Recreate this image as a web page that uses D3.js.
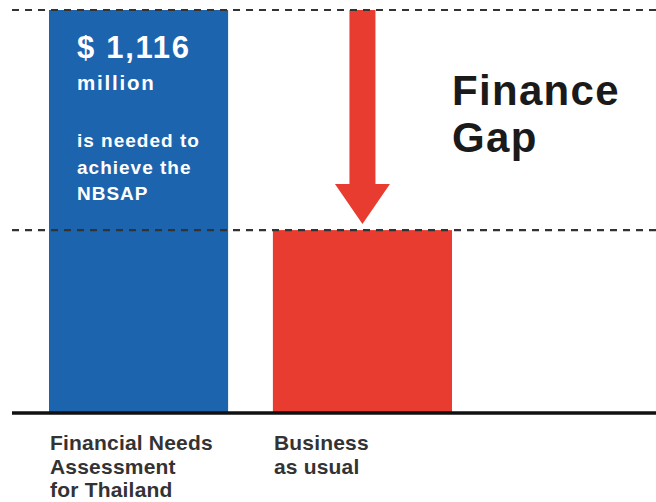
<!DOCTYPE html>
<html>
<head>
<meta charset="utf-8">
<script src="https://cdn.jsdelivr.net/npm/d3@7"></script>
<style>
  body { margin: 0; background: #fff; }
  svg { display: block; font-family: "Liberation Sans", Arial, sans-serif; }
</style>
</head>
<body>
<svg id="chart" width="656" height="502"></svg>
<script>
// data (US$ million)
const categories = ["Financial Needs Assessment for Thailand", "Business as usual"];
const values = [1116, 505];
const categoryLines = [["Financial Needs", "Assessment", "for Thailand"], ["Business", "as usual"]];
const barColors = ["#1d64af", "#e83c30"];
const needLines = ["is needed to", "achieve the", "NBSAP"];
const gapLines = ["Finance", "Gap"];

const svg = d3.select("#chart");

const baseY = 412, topY = 10;

const x = d3.scaleBand()
    .domain(categories)
    .range([49, 452])
    .paddingInner(0.2)
    .paddingOuter(0);

const y = d3.scaleLinear()
    .domain([0, values[0]])
    .range([baseY, topY]);

// bars
svg.selectAll(".bar")
  .data(categories)
  .join("rect")
    .attr("class", "bar")
    .attr("x", d => x(d))
    .attr("width", x.bandwidth())
    .attr("y", (d, i) => y(values[i]))
    .attr("height", (d, i) => baseY - y(values[i]))
    .attr("fill", (d, i) => barColors[i]);

// arrow showing the gap
const ax = x(categories[1]) + x.bandwidth() / 2;
const yTop = y(values[0]), yTip = y(values[1]) - 6;
const shaftW = 26, headW = 55, headH = 40;
svg.append("path")
    .attr("d", `M${ax - shaftW/2},${yTop} L${ax + shaftW/2},${yTop} L${ax + shaftW/2},${yTip - headH}
                L${ax + headW/2},${yTip - headH} L${ax},${yTip} L${ax - headW/2},${yTip - headH}
                L${ax - shaftW/2},${yTip - headH} Z`)
    .attr("fill", barColors[1]);

// dashed reference lines at each level
svg.selectAll(".ref")
  .data(values)
  .join("line")
    .attr("class", "ref")
    .attr("x1", 12).attr("x2", 656)
    .attr("y1", d => y(d)).attr("y2", d => y(d))
    .attr("stroke", "#333")
    .attr("stroke-width", 2.2)
    .attr("stroke-dasharray", "7,6");

// baseline
svg.append("line")
    .attr("x1", 12).attr("x2", 656)
    .attr("y1", baseY + 1).attr("y2", baseY + 1)
    .attr("stroke", "#111")
    .attr("stroke-width", 3.5);

// text inside the blue bar
const tx = x(categories[0]) + 28;
svg.append("text")
    .attr("x", tx).attr("y", 58)
    .attr("fill", "#fff").attr("font-weight", 700).attr("font-size", 31)
    .attr("letter-spacing", 1.7)
    .text("$ " + d3.format(",")(values[0]));
svg.append("text")
    .attr("x", tx).attr("y", 90)
    .attr("fill", "#fff").attr("font-weight", 700).attr("font-size", 20.5)
    .attr("letter-spacing", 1.8)
    .text("million");
svg.selectAll(".need")
  .data(needLines)
  .join("text")
    .attr("class", "need")
    .attr("x", tx)
    .attr("y", (d, i) => 147 + i * 26.5)
    .attr("fill", "#fff").attr("font-weight", 700).attr("font-size", 19)
    .attr("letter-spacing", 1)
    .text(d => d);

// Finance Gap label
svg.selectAll(".gap")
  .data(gapLines)
  .join("text")
    .attr("class", "gap")
    .attr("x", 452)
    .attr("y", (d, i) => 105 + i * 47)
    .attr("fill", "#1a1a1a").attr("font-weight", 700).attr("font-size", 42)
    .attr("letter-spacing", 1.3)
    .text(d => d);

// category labels under the axis
categories.forEach((c, i) => {
  svg.append("g")
    .selectAll("text")
    .data(categoryLines[i])
    .join("text")
      .attr("x", x(c) + 1)
      .attr("y", (d, j) => 450 + j * 23.5)
      .attr("fill", "#333").attr("font-weight", 700).attr("font-size", 21)
      .attr("letter-spacing", 0.2)
      .text(d => d);
});
</script>
</body>
</html>
